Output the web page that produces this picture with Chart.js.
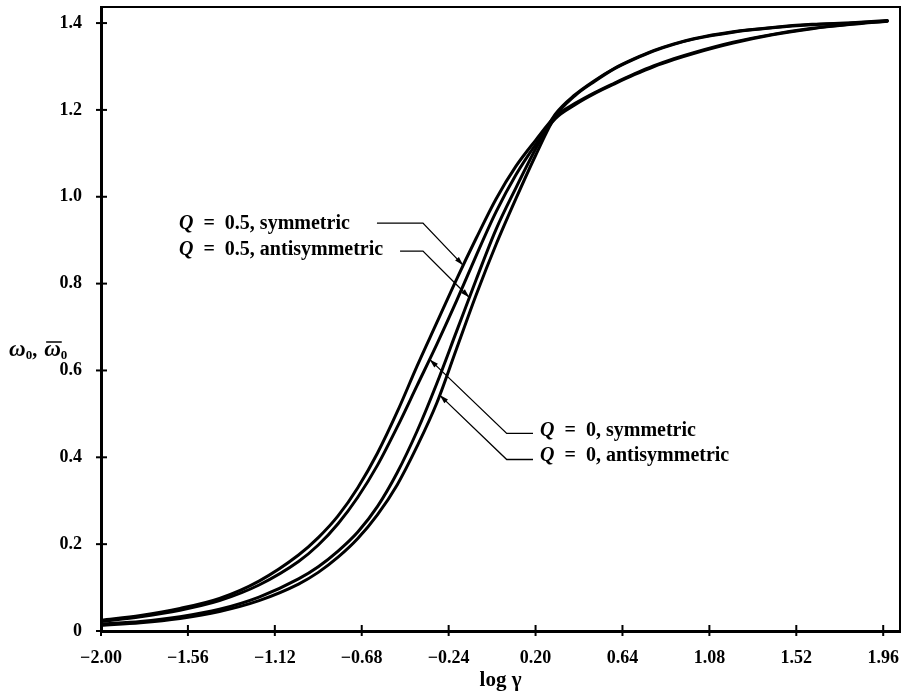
<!DOCTYPE html>
<html><head><meta charset="utf-8">
<script src="https://cdn.jsdelivr.net/npm/chart.js@4.4.0/dist/chart.umd.min.js"></script>
<style>html,body{margin:0;padding:0;background:#fff;}#wrap{width:909px;height:696px;position:relative;}</style>
</head><body><div id="wrap"><canvas id="c" width="909" height="696"></canvas></div>
<script>
// ---- data ----
const logGamma = [-2.0,-1.8,-1.6,-1.4,-1.2,-1.0,-0.9,-0.8,-0.7,-0.6,-0.5,-0.4,-0.3,-0.2,-0.1,0.0,0.1,0.2,0.3,0.4,0.5,0.6,0.7,0.8,0.9,1.0,1.2,1.4,1.6,1.8,1.98];
const q05Symmetric     = [0.025,0.036,0.052,0.075,0.115,0.175,0.215,0.265,0.330,0.410,0.505,0.610,0.710,0.810,0.905,0.995,1.070,1.130,1.185,1.215,1.240,1.262,1.283,1.302,1.318,1.332,1.356,1.374,1.388,1.398,1.405];
const q0Symmetric      = [0.022,0.033,0.048,0.070,0.106,0.160,0.198,0.247,0.308,0.382,0.470,0.565,0.660,0.760,0.865,0.965,1.050,1.120,1.180,1.212,1.238,1.260,1.281,1.300,1.316,1.330,1.354,1.373,1.387,1.397,1.404];
const q05Antisymmetric = [0.016,0.022,0.033,0.050,0.078,0.120,0.148,0.184,0.228,0.287,0.365,0.460,0.570,0.690,0.810,0.925,1.020,1.110,1.190,1.235,1.268,1.296,1.318,1.337,1.352,1.364,1.380,1.390,1.397,1.401,1.406];
const q0Antisymmetric  = [0.013,0.019,0.029,0.045,0.070,0.108,0.135,0.170,0.213,0.268,0.337,0.425,0.525,0.650,0.775,0.890,0.995,1.095,1.185,1.233,1.266,1.295,1.317,1.336,1.351,1.363,1.379,1.389,1.396,1.400,1.405];
const seriesNames = ['Q = 0.5, symmetric','Q = 0, symmetric','Q = 0.5, antisymmetric','Q = 0, antisymmetric'];
const xTickValues = [-2.00,-1.56,-1.12,-0.68,-0.24,0.20,0.64,1.08,1.52,1.96];
const xTickLabels = ['\u22122.00','\u22121.56','\u22121.12','\u22120.68','\u22120.24','0.20','0.64','1.08','1.52','1.96'];
const yTickValues = [0,0.2,0.4,0.6,0.8,1.0,1.2,1.4];
const yTickLabels = ['0','0.2','0.4','0.6','0.8','1.0','1.2','1.4'];
const xTitle = 'log \u03b3';

const allSeries = [q05Symmetric,q0Symmetric,q05Antisymmetric,q0Antisymmetric];

// annotation labels (text/leader anchors in data units; arrow tip found on the curve)
const annotations = [
  {q:'Q', rest:'\u2002=\u20020.5, symmetric',     tx:-1.605, ty:0.9376, line:[[-0.603,0.9394],[-0.370,0.9394]], dir:[1,1.05], series:0},
  {q:'Q', rest:'\u2002=\u20020.5, antisymmetric', tx:-1.605, ty:0.877,  line:[[-0.486,0.875],[-0.370,0.875]],   dir:[1,1],    series:2},
  {q:'Q', rest:'\u2002=\u20020, symmetric',       tx:0.223,  ty:0.4605, line:[[0.187,0.455],[0.054,0.455]],     dir:[-1,-0.96], series:1},
  {q:'Q', rest:'\u2002=\u20020, antisymmetric',   tx:0.223,  ty:0.403,  line:[[0.187,0.395],[0.054,0.395]],     dir:[-1,-0.96], series:3}
];

const FONT = 'Liberation Serif, DejaVu Serif, serif';

function pts(arr){ return logGamma.map((g,i)=>({x:g,y:arr[i]})); }

const extras = {
  id:'extras',
  afterDraw(chart){
    const {ctx, chartArea:a, scales:{x,y}} = chart;
    ctx.save();
    ctx.strokeStyle='#000'; ctx.fillStyle='#000';
    ctx.lineWidth=2;
    ctx.beginPath(); ctx.moveTo(a.left,a.top); ctx.lineTo(a.right,a.top); ctx.lineTo(a.right,a.bottom); ctx.stroke();
    ctx.lineWidth=2;
    x.ticks.forEach(t=>{const p=x.getPixelForValue(t.value); ctx.beginPath(); ctx.moveTo(p,a.bottom-6); ctx.lineTo(p,a.bottom+5); ctx.stroke();});
    y.ticks.forEach(t=>{const p=y.getPixelForValue(t.value); ctx.beginPath(); ctx.moveTo(a.left-5,p); ctx.lineTo(a.left+6,p); ctx.stroke();});

    annotations.forEach(an=>{
      const tx=x.getPixelForValue(an.tx), ty=y.getPixelForValue(an.ty);
      ctx.textBaseline='middle'; ctx.textAlign='left';
      ctx.font='italic bold 20px '+FONT;
      ctx.fillText(an.q,tx,ty);
      const w=ctx.measureText(an.q).width;
      ctx.font='bold 20px '+FONT;
      ctx.fillText(an.rest,tx+w,ty);
      const p0=[x.getPixelForValue(an.line[0][0]),y.getPixelForValue(an.line[0][1])];
      const p1=[x.getPixelForValue(an.line[1][0]),y.getPixelForValue(an.line[1][1])];
      const d=an.dir; const s=allSeries[an.series];
      let best=null;
      for(let i=0;i<logGamma.length-1;i++){
        const ax=x.getPixelForValue(logGamma[i]), ay=y.getPixelForValue(s[i]);
        const bx=x.getPixelForValue(logGamma[i+1]), by=y.getPixelForValue(s[i+1]);
        const ex=bx-ax, ey=by-ay;
        const den=d[0]*(-ey)-d[1]*(-ex);
        if(Math.abs(den)<1e-9) continue;
        const rx=ax-p1[0], ry=ay-p1[1];
        const t=(rx*(-ey)-ry*(-ex))/den;
        const u=(d[0]*ry-d[1]*rx)/den;
        if(t>0 && u>=0 && u<=1){ if(best===null||t<best) best=t; }
      }
      if(best===null) best=0;
      const tip=[p1[0]+d[0]*best, p1[1]+d[1]*best];
      ctx.lineWidth=1.3;
      ctx.beginPath(); ctx.moveTo(p0[0],p0[1]); ctx.lineTo(p1[0],p1[1]); ctx.lineTo(tip[0],tip[1]); ctx.stroke();
      const L=Math.hypot(d[0],d[1]); const ux=d[0]/L, uy=d[1]/L;
      const back=9, hw=2.6;
      ctx.beginPath();
      ctx.moveTo(tip[0],tip[1]);
      ctx.lineTo(tip[0]-ux*back-uy*hw, tip[1]-uy*back+ux*hw);
      ctx.lineTo(tip[0]-ux*back+uy*hw, tip[1]-uy*back-ux*hw);
      ctx.closePath(); ctx.fill();
    });

    // y-axis title
    let cx=9; const by=356;
    ctx.textBaseline='alphabetic'; ctx.textAlign='left';
    ctx.font='italic bold 23px '+FONT; ctx.fillText('\u03c9',cx,by); cx+=ctx.measureText('\u03c9').width;
    ctx.font='bold 13px '+FONT; ctx.fillText('0',cx,by+3); cx+=ctx.measureText('0').width;
    ctx.font='bold 20px '+FONT; ctx.fillText(',',cx,by); cx+=ctx.measureText(', ').width+2;
    ctx.font='italic bold 23px '+FONT; const ow=ctx.measureText('\u03c9').width; ctx.fillText('\u03c9',cx,by);
    ctx.lineWidth=1.5; ctx.beginPath(); ctx.moveTo(cx+2,by-14); ctx.lineTo(cx+ow+1,by-14); ctx.stroke();
    cx+=ow;
    ctx.font='bold 13px '+FONT; ctx.fillText('0',cx,by+3);
    ctx.restore();
  }
};

const mk = (arr,label)=>({label, data:pts(arr), borderColor:'#000', borderWidth:3, pointRadius:0, fill:false,
  cubicInterpolationMode:'monotone', borderCapStyle:'round', borderJoinStyle:'round'});

new Chart(document.getElementById('c'),{
  type:'line',
  data:{datasets:[mk(q05Symmetric,seriesNames[0]),mk(q0Symmetric,seriesNames[1]),mk(q05Antisymmetric,seriesNames[2]),mk(q0Antisymmetric,seriesNames[3])]},
  options:{
    responsive:false, animation:false, devicePixelRatio:1,
    layout:{padding:{top:7,right:9,left:0,bottom:0}},
    plugins:{legend:{display:false},tooltip:{enabled:false}},
    scales:{
      x:{type:'linear', min:-2.0, max:2.045,
        afterBuildTicks(s){ s.ticks = xTickValues.map(v=>({value:v})); },
        afterFit(s){ s.height=65; s.paddingLeft=0; s.paddingRight=0; },
        grid:{display:false},
        border:{display:true,color:'#000',width:3},
        ticks:{autoSkip:false,maxRotation:0,padding:9,color:'#000',font:{family:FONT,size:18,weight:'bold'},
          callback:(v,i)=>xTickLabels[i]},
        title:{display:true,text:xTitle,color:'#000',font:{family:FONT,size:21,weight:'bold'},padding:{top:0,bottom:3}}
      },
      y:{type:'linear', min:0, max:1.437,
        afterBuildTicks(s){ s.ticks = yTickValues.map(v=>({value:v})); },
        afterFit(s){ s.width=101; s.paddingTop=0; s.paddingBottom=0; },
        grid:{display:false},
        border:{display:true,color:'#000',width:3},
        ticks:{padding:11,color:'#000',font:{family:FONT,size:18,weight:'bold'},
          callback:(v,i)=>yTickLabels[i]}
      }
    }
  },
  plugins:[extras]
});
</script></body></html>
